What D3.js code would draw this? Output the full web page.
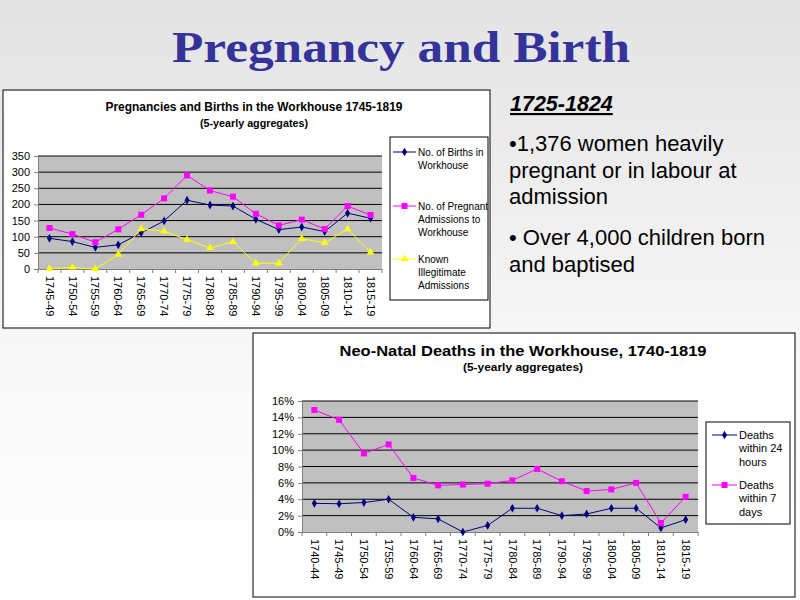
<!DOCTYPE html>
<html><head><meta charset="utf-8">
<script src="https://cdn.jsdelivr.net/npm/d3@7"></script>
<style>body{margin:0;}svg{display:block;}</style>
</head><body>
<script>
const periods1 = ["1745-49","1750-54","1755-59","1760-64","1765-69","1770-74","1775-79","1780-84","1785-89","1790-94","1795-99","1800-04","1805-09","1810-14","1815-19"];
const births = [95,85,67,75,112,149,213,198,195,154,122,130,116,173,157];
const pregnant = [127,108,83,123,168,219,290,243,224,171,135,153,124,195,167];
const illegit = [1,5,0,45,124,117,91,65,84,18,18,94,81,124,52];
const yTicks1 = [0,50,100,150,200,250,300,350];

const periods2 = ["1740-44","1745-49","1750-54","1755-59","1760-64","1765-69","1770-74","1775-79","1780-84","1785-89","1790-94","1795-99","1800-04","1805-09","1810-14","1815-19"];
const deaths24 = [3.5,3.45,3.6,4.0,1.8,1.6,0,0.8,2.9,2.9,2.0,2.2,2.9,2.9,0.5,1.5];
const deaths7 = [14.9,13.7,9.6,10.7,6.6,5.7,5.8,5.9,6.3,7.7,6.2,5.0,5.2,6.0,1.1,4.3];
const yTicks2 = [0,2,4,6,8,10,12,14,16];

const W=800,H=600;
const svg=d3.select("body").append("svg").attr("width",W).attr("height",H);
const defs=svg.append("defs");
const g=defs.append("linearGradient").attr("id","bg").attr("x1",0).attr("y1",0).attr("x2",0).attr("y2",1);
g.append("stop").attr("offset","0%").attr("stop-color","#e3e3e3");
g.append("stop").attr("offset","60%").attr("stop-color","#f8f8f8");
g.append("stop").attr("offset","100%").attr("stop-color","#ffffff");
svg.append("rect").attr("width",W).attr("height",H).attr("fill","url(#bg)");

svg.append("text").attr("x",401).attr("y",62).attr("text-anchor","middle")
  .attr("font-family","Liberation Serif, DejaVu Serif, serif").attr("font-weight","bold")
  .attr("font-size",44).attr("fill","#333399").attr("textLength",458).attr("lengthAdjust","spacingAndGlyphs")
  .text("Pregnancy and Birth");

// Right text
const tf="Liberation Sans, Arial, sans-serif";
svg.append("text").attr("x",510).attr("y",111).attr("font-family",tf).attr("font-size",21.5)
  .attr("font-weight","bold").attr("font-style","italic").attr("text-decoration","underline").text("1725-1824");
const lines=[["•1,376 women heavily",151],["pregnant or in labour at",178],["admission",204],["• Over 4,000 children born",245],["and baptised",272]];
lines.forEach(l=>svg.append("text").attr("x",509).attr("y",l[1]).attr("font-family",tf).attr("font-size",22).attr("fill","#000").text(l[0]));

function marker(sel,type,color,x,y){
  if(type==="diamond") sel.append("path").attr("d",d3.symbol(d3.symbolDiamond,22)()).attr("transform",`translate(${x},${y})`).attr("fill",color);
  else if(type==="square") sel.append("rect").attr("x",x-3).attr("y",y-3).attr("width",6).attr("height",6).attr("fill",color);
  else sel.append("path").attr("d",d3.symbol(d3.symbolTriangle,26)()).attr("transform",`translate(${x},${y})`).attr("fill",color);
}

function chart(o){
  const c=svg.append("g");
  c.append("rect").attr("x",o.box[0]).attr("y",o.box[1]).attr("width",o.box[2]).attr("height",o.box[3]).attr("fill","#fff").attr("stroke","#000").attr("stroke-width",1);
  c.append("text").attr("x",o.tx).attr("y",o.ty).attr("text-anchor","middle").attr("font-family",tf).attr("font-weight","bold").attr("font-size",o.tfs)
    .attr("textLength",o.tl).attr("lengthAdjust","spacingAndGlyphs").text(o.title);
  c.append("text").attr("x",o.tx).attr("y",o.sy).attr("text-anchor","middle").attr("font-family",tf).attr("font-weight","bold").attr("font-size",o.sfs)
    .attr("textLength",o.sl).attr("lengthAdjust","spacingAndGlyphs").text("(5-yearly aggregates)");
  const x=d3.scaleBand().domain(o.cats).range([o.px0,o.px1]);
  const y=d3.scaleLinear().domain([0,o.ymax]).range([o.py1,o.py0]);
  c.append("rect").attr("x",o.px0).attr("y",o.py0).attr("width",o.px1-o.px0).attr("height",o.py1-o.py0).attr("fill","#c0c0c0");
  c.selectAll(".gl").data(o.yt.filter(v=>v>0)).join("line").attr("x1",o.px0).attr("x2",o.px1).attr("y1",d=>y(d)).attr("y2",d=>y(d)).attr("stroke","#000").attr("stroke-width",1);
  const ya=c.append("g").attr("transform",`translate(${o.px0},0)`).call(d3.axisLeft(y).tickValues(o.yt).tickSize(4).tickFormat(o.fmt));
  ya.select(".domain").attr("stroke","#808080");
  ya.selectAll(".tick line").attr("stroke","#808080");
  ya.selectAll("text").attr("font-family",tf).attr("font-size",o.fs).attr("fill","#000").attr("dx",-1);
  const xa=c.append("g").attr("transform",`translate(0,${o.py1})`).call(d3.axisBottom(x).tickSize(0).tickFormat(d=>d));
  xa.select(".domain").attr("stroke","#808080");
  xa.selectAll("text").attr("font-family",tf).attr("font-size",o.fs).attr("fill","#000")
    .attr("transform","rotate(90)").attr("text-anchor","start").attr("x",7).attr("y",0).attr("dy","0.35em");
  const bounds=o.cats.map(d=>x(d)).concat([o.px1]);
  c.selectAll(".xt").data(bounds).join("line").attr("x1",d=>d).attr("x2",d=>d).attr("y1",o.py1).attr("y2",o.py1+4).attr("stroke","#808080");
  o.series.forEach(s=>{
    const line=d3.line().x((d,i)=>x(o.cats[i])+x.bandwidth()/2).y(d=>y(d));
    c.append("path").attr("d",line(s.vals)).attr("fill","none").attr("stroke",s.color).attr("stroke-width",1);
    s.vals.forEach((v,i)=>marker(c,s.m,s.color,x(o.cats[i])+x.bandwidth()/2,y(v)));
  });
  // legend
  c.append("rect").attr("x",o.lg[0]).attr("y",o.lg[1]).attr("width",o.lg[2]).attr("height",o.lg[3]).attr("fill","#fff").attr("stroke","#000");
  o.series.forEach((s,k)=>{
    const ly=o.ly[k];
    c.append("line").attr("x1",o.lx0).attr("x2",o.lx1).attr("y1",ly).attr("y2",ly).attr("stroke",s.color);
    marker(c,s.m,s.color,(o.lx0+o.lx1)/2,ly);
    s.label.forEach((t,j)=>c.append("text").attr("x",o.lx1+2).attr("y",ly+j*o.lls).attr("dy","0.35em").attr("font-family",tf).attr("font-size",o.lfs).text(t));
  });
}

chart({box:[3,90,487,238],title:"Pregnancies and Births in the Workhouse 1745-1819",tx:254,ty:111,sy:127,tfs:12,sfs:10.5,tl:297,sl:108,
  cats:periods1,px0:38,px1:382,py0:156,py1:269,ymax:350,yt:yTicks1,fmt:d3.format("d"),fs:11,
  series:[{vals:births,color:"#000080",m:"diamond",label:["No. of Births in","Workhouse"]},
          {vals:pregnant,color:"#ff00ff",m:"square",label:["No. of Pregnant","Admissions to","Workhouse"]},
          {vals:illegit,color:"#ffff00",m:"triangle",label:["Known","Illegitimate","Admissions"]}],
  lg:[390,137,98,163],lx0:393,lx1:416,ly:[152,206,259],lls:13,lfs:10});

chart({box:[253,333,542,264],title:"Neo-Natal Deaths in the Workhouse, 1740-1819",tx:523,ty:356,sy:371,tfs:15,sfs:11.5,tl:367,sl:120,
  cats:periods2,px0:302,px1:698,py0:401,py1:532,ymax:16,yt:yTicks2,fmt:d=>d+"%",fs:11,
  series:[{vals:deaths24,color:"#000080",m:"diamond",label:["Deaths","within 24","hours"]},
          {vals:deaths7,color:"#ff00ff",m:"square",label:["Deaths","within 7","days"]}],
  lg:[706,422,84,102],lx0:712,lx1:737,ly:[435,485],lls:13.5,lfs:11});
</script>
</body></html>
